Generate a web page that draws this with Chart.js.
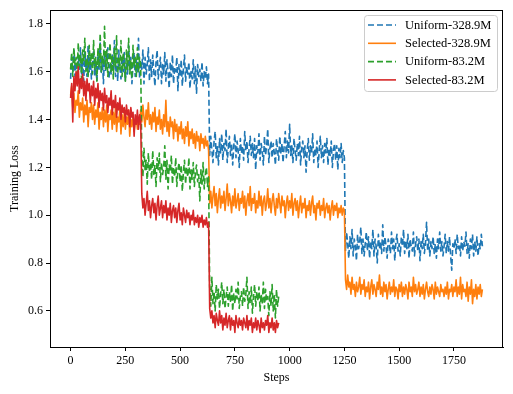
<!DOCTYPE html>
<html>
<head>
<meta charset="utf-8">
<script src="https://cdn.jsdelivr.net/npm/chart.js@4/dist/chart.umd.min.js"></script>
<style>
  html, body { margin: 0; padding: 0; background: #fff; }
  #wrap { width: 513px; height: 394px; }
</style>
</head>
<body>
<div id="wrap"><canvas id="chartCanvas"></canvas></div>
<script>
// one value every 5 steps
const STEP = 5;

const seriesNames = ['Uniform-328.9M', 'Selected-328.9M', 'Uniform-83.2M', 'Selected-83.2M'];

const uniform329 = [
  1.57,1.66,1.60,1.69,1.58,1.64,1.55,1.67,1.61,1.70,
  1.59,1.65,1.56,1.68,1.62,1.58,1.71,1.60,1.66,1.57,
  1.64,1.69,1.58,1.63,1.56,1.67,1.61,1.72,1.59,1.65,
  1.55,1.68,1.60,1.64,1.70,1.57,1.63,1.59,1.67,1.61,
  1.73,1.58,1.65,1.56,1.69,1.62,1.57,1.66,1.60,1.68,
  1.56,1.64,1.59,1.71,1.61,1.66,1.55,1.63,1.68,1.58,
  1.65,1.60,1.74,1.57,1.64,1.61,1.69,1.55,1.66,1.59,
  1.63,1.70,1.56,1.65,1.58,1.67,1.60,1.54,1.64,1.69,
  1.57,1.62,1.66,1.55,1.63,1.59,1.68,1.56,1.65,1.60,
  1.53,1.64,1.58,1.67,1.55,1.62,1.60,1.66,1.52,1.63,
  1.58,1.65,1.54,1.61,1.67,1.56,1.62,1.59,1.64,1.53,
  1.60,1.57,1.65,1.55,1.62,1.51,1.63,1.58,1.61,1.56,
  1.64,1.54,1.60,1.57,1.62,1.55,1.59,
  1.25,1.33,1.27,1.22,1.31,1.35,1.24,1.29,1.21,1.32,
  1.26,1.34,1.23,1.30,1.27,1.36,1.22,1.28,1.33,1.25,
  1.30,1.21,1.29,1.34,1.24,1.31,1.27,1.20,1.32,1.26,
  1.29,1.23,1.35,1.27,1.31,1.22,1.28,1.33,1.25,1.30,
  1.24,1.32,1.19,1.29,1.26,1.34,1.23,1.30,1.27,1.21,
  1.33,1.25,1.29,1.36,1.22,1.28,1.31,1.24,1.30,1.26,
  1.21,1.32,1.27,1.23,1.33,1.26,1.30,1.22,1.29,1.35,
  1.24,1.31,1.26,1.38,1.25,1.29,1.22,1.32,1.27,1.23,
  1.30,1.25,1.33,1.21,1.28,1.31,1.24,1.29,1.18,1.27,
  1.32,1.23,1.29,1.26,1.34,1.22,1.28,1.25,1.31,1.20,
  1.27,1.33,1.24,1.29,1.22,1.30,1.26,1.32,1.21,1.28,
  1.25,1.31,1.20,1.27,1.30,1.23,1.29,1.19,1.28,1.24,
  1.30,1.22,1.27,1.24,
  0.85,0.93,0.88,0.82,0.91,0.86,0.94,0.83,0.90,0.87,
  0.81,0.92,0.86,0.89,0.95,0.84,0.90,0.83,0.88,0.93,
  0.85,0.91,0.82,0.89,0.86,0.94,0.83,0.90,0.87,0.80,
  0.92,0.86,0.89,0.84,0.96,0.85,0.91,0.87,0.82,0.90,
  0.88,0.84,0.93,0.86,0.90,0.81,0.89,0.92,0.85,0.88,
  0.83,0.91,0.87,0.94,0.84,0.89,0.86,0.92,0.82,0.90,
  0.87,0.85,0.93,0.83,0.88,0.91,0.85,0.90,0.81,0.89,
  0.86,0.92,0.84,0.88,0.97,0.85,0.90,0.83,0.89,0.86,
  0.91,0.84,0.88,0.82,0.90,0.86,0.93,0.85,0.89,0.83,
  0.87,0.92,0.84,0.89,0.85,0.91,0.83,0.77,0.88,0.86,
  0.90,0.84,0.92,0.86,0.88,0.83,0.91,0.85,0.89,0.87,
  0.93,0.84,0.88,0.82,0.90,0.86,0.92,0.83,0.89,0.85,
  0.91,0.83,0.88,0.86,0.92,0.87
];

const selected329 = [
  1.50,1.54,1.45,1.51,1.43,1.48,1.46,1.52,1.41,1.47,
  1.44,1.49,1.39,1.46,1.42,1.48,1.37,1.45,1.43,1.47,
  1.40,1.46,1.38,1.44,1.41,1.47,1.36,1.43,1.40,1.45,
  1.37,1.44,1.39,1.46,1.35,1.42,1.40,1.44,1.36,1.43,
  1.38,1.45,1.35,1.41,1.39,1.44,1.34,1.42,1.37,1.43,
  1.36,1.41,1.38,1.44,1.33,1.40,1.37,1.42,1.35,1.39,
  1.41,1.36,1.40,1.38,
  1.44,1.39,1.46,1.41,1.37,1.44,1.40,1.47,1.38,1.42,
  1.36,1.43,1.39,1.45,1.35,1.41,1.38,1.44,1.36,1.40,
  1.34,1.42,1.37,1.48,1.35,1.39,1.33,1.41,1.37,1.39,
  1.32,1.40,1.35,1.38,1.31,1.37,1.34,1.39,1.32,1.36,
  1.30,1.37,1.33,1.39,1.29,1.35,1.32,1.36,1.30,1.34,
  1.28,1.35,1.31,1.33,1.27,1.34,1.30,1.32,1.28,1.33,
  1.29,1.31,1.27,
  1.05,1.10,1.03,1.08,1.12,1.04,1.09,1.01,1.07,1.11,
  1.03,1.08,1.05,1.10,1.02,1.07,1.13,1.04,1.09,1.06,
  1.01,1.08,1.04,1.11,1.03,1.06,1.09,1.02,1.07,1.05,
  1.10,1.03,1.08,1.00,1.06,1.09,1.04,1.12,1.02,1.07,
  1.05,1.09,1.01,1.06,1.03,1.10,1.04,1.08,1.00,1.06,
  1.08,1.02,1.05,1.11,1.03,1.07,1.01,1.06,1.09,1.04,
  1.00,1.07,1.03,1.09,1.05,1.01,1.08,1.04,1.06,0.99,
  1.05,1.08,1.02,1.06,1.03,1.09,1.00,1.05,1.07,1.02,
  1.06,0.99,1.04,1.08,1.01,1.05,1.03,1.07,0.99,1.04,
  1.02,1.06,1.00,1.05,1.08,1.01,1.04,0.98,1.05,1.03,
  1.06,1.00,1.04,1.02,1.07,0.99,1.03,1.05,1.01,1.04,
  0.98,1.03,1.06,1.00,1.04,1.02,1.05,0.99,1.03,1.01,
  1.04,1.00,1.03,1.02,
  0.73,0.69,0.75,0.70,0.72,0.67,0.74,0.69,0.71,0.66,
  0.72,0.68,0.70,0.74,0.67,0.71,0.69,0.73,0.66,0.70,
  0.68,0.72,0.65,0.70,0.73,0.67,0.71,0.69,0.66,0.72,
  0.69,0.75,0.67,0.70,0.66,0.72,0.68,0.71,0.65,0.69,
  0.72,0.67,0.70,0.68,0.73,0.66,0.70,0.69,0.65,0.71,
  0.68,0.72,0.66,0.70,0.67,0.71,0.69,0.65,0.72,0.68,
  0.70,0.66,0.74,0.68,0.71,0.67,0.69,0.72,0.66,0.70,
  0.67,0.71,0.65,0.69,0.72,0.68,0.66,0.70,0.67,0.71,
  0.69,0.65,0.72,0.67,0.70,0.68,0.66,0.71,0.68,0.69,
  0.66,0.70,0.67,0.72,0.65,0.69,0.68,0.71,0.66,0.70,
  0.68,0.73,0.66,0.70,0.67,0.74,0.65,0.71,0.68,0.69,
  0.66,0.72,0.64,0.70,0.67,0.73,0.63,0.69,0.66,0.71,
  0.65,0.70,0.67,0.71,0.66,0.69
];

const uniform83 = [
  1.61,1.68,1.58,1.70,1.63,1.66,1.59,1.72,1.62,1.67,
  1.57,1.69,1.64,1.74,1.60,1.66,1.58,1.71,1.63,1.68,
  1.59,1.73,1.61,1.66,1.56,1.70,1.62,1.76,1.60,1.67,
  1.63,1.79,1.61,1.69,1.58,1.65,1.72,1.60,1.67,1.57,
  1.70,1.62,1.75,1.59,1.66,1.61,1.73,1.58,1.68,1.63,
  1.56,1.69,1.61,1.74,1.59,1.65,1.57,1.71,1.62,1.66,
  1.58,1.70,1.60,1.66,1.63,
  1.25,1.16,1.28,1.19,1.23,1.13,1.26,1.18,1.22,1.15,
  1.27,1.17,1.21,1.12,1.24,1.19,1.26,1.14,1.22,1.17,
  1.20,1.29,1.15,1.23,1.11,1.21,1.18,1.25,1.13,1.20,
  1.16,1.24,1.12,1.19,1.22,1.14,1.21,1.10,1.18,1.23,
  1.13,1.20,1.16,1.24,1.11,1.19,1.15,1.22,1.12,1.18,
  1.21,1.14,1.17,1.06,1.19,1.13,1.22,1.11,1.17,1.20,
  1.12,1.16,
  0.70,0.62,0.74,0.63,0.68,0.60,0.71,0.65,0.69,0.61,
  0.67,0.72,0.63,0.69,0.61,0.66,0.70,0.62,0.68,0.64,
  0.71,0.60,0.67,0.63,0.69,0.65,0.72,0.61,0.66,0.68,
  0.62,0.70,0.64,0.67,0.74,0.61,0.68,0.63,0.70,0.59,
  0.66,0.71,0.62,0.68,0.64,0.70,0.60,0.67,0.63,0.72,
  0.61,0.69,0.64,0.66,0.58,0.68,0.62,0.71,0.60,0.67,
  0.57,0.69,0.62,0.66
];

const selected83 = [
  1.49,1.55,1.39,1.58,1.52,1.60,1.54,1.62,1.51,1.57,
  1.53,1.59,1.50,1.56,1.48,1.57,1.52,1.55,1.47,1.54,
  1.50,1.56,1.46,1.53,1.49,1.55,1.45,1.52,1.48,1.51,
  1.44,1.53,1.47,1.50,1.43,1.49,1.46,1.52,1.42,1.48,
  1.45,1.50,1.41,1.47,1.44,1.49,1.40,1.46,1.43,1.45,
  1.39,1.46,1.42,1.44,1.37,1.45,1.41,1.43,1.33,1.42,
  1.38,1.44,1.36,1.42,1.40,
  1.09,1.03,1.07,1.00,1.05,1.10,1.02,1.06,0.99,1.04,
  1.07,1.01,1.05,0.98,1.04,1.08,1.00,1.03,1.06,0.99,
  1.04,1.01,1.06,0.98,1.03,1.00,1.05,0.97,1.02,1.04,
  0.99,1.03,0.97,1.02,1.05,0.98,1.01,0.96,1.03,1.00,
  0.97,1.02,0.99,1.01,0.96,1.00,0.98,1.02,0.96,0.99,
  0.97,1.00,0.95,0.99,0.97,1.00,0.95,0.98,0.96,0.99,
  0.95,0.97,
  0.61,0.57,0.60,0.55,0.58,0.53,0.59,0.56,0.54,0.60,
  0.55,0.58,0.52,0.57,0.54,0.59,0.53,0.56,0.58,0.52,
  0.57,0.54,0.56,0.51,0.58,0.55,0.53,0.57,0.54,0.56,
  0.52,0.57,0.55,0.53,0.58,0.52,0.56,0.54,0.57,0.51,
  0.55,0.53,0.57,0.52,0.56,0.54,0.51,0.57,0.53,0.55,
  0.52,0.56,0.54,0.58,0.51,0.55,0.53,0.57,0.52,0.55,
  0.51,0.56,0.53,0.55
];

const xTicks = [0, 250, 500, 750, 1000, 1250, 1500, 1750];
const yTicks = [0.6, 0.8, 1.0, 1.2, 1.4, 1.6, 1.8];

const colors = ['#1f77b4', '#ff7f0e', '#2ca02c', '#d62728'];
const dashes = [[6, 3], [], [6, 3], []];
const SERIF = '"Liberation Serif", "DejaVu Serif", serif';

function toPoints(values) {
    return values.map((v, i) => ({ x: i * STEP, y: v }));
}

const allSeries = [uniform329, selected329, uniform83, selected83];

const datasets = allSeries.map((vals, i) => ({
    label: seriesNames[i],
    data: toPoints(vals),
    borderColor: colors[i],
    backgroundColor: colors[i],
    borderWidth: 1.6,
    borderDash: dashes[i],
    borderJoinStyle: 'round',
    pointRadius: 0,
    tension: 0,
    fill: false,
    order: 4 - i
}));

// top/right spines plus the matplotlib-style legend box
const framePlugin = {
    id: 'frame',
    afterDraw(chart) {
        const { ctx, chartArea: a } = chart;
        ctx.save();
        ctx.strokeStyle = '#000';
        ctx.lineWidth = 1;
        ctx.setLineDash([]);
        ctx.strokeRect(Math.round(a.left) + 0.5, Math.round(a.top) + 0.5,
            Math.round(a.right - a.left) - 1, Math.round(a.bottom - a.top));

        const bx = 364.5, by = 15.5, bw = 133, bh = 76, r = 3;
        ctx.beginPath();
        ctx.moveTo(bx + r, by);
        ctx.arcTo(bx + bw, by, bx + bw, by + bh, r);
        ctx.arcTo(bx + bw, by + bh, bx, by + bh, r);
        ctx.arcTo(bx, by + bh, bx, by, r);
        ctx.arcTo(bx, by, bx + bw, by, r);
        ctx.closePath();
        ctx.fillStyle = 'rgba(255,255,255,0.8)';
        ctx.fill();
        ctx.strokeStyle = '#cccccc';
        ctx.stroke();

        ctx.font = '12.5px ' + SERIF;
        ctx.textBaseline = 'middle';
        ctx.textAlign = 'left';
        seriesNames.forEach((name, i) => {
            const y = 25 + i * 18.3;
            ctx.beginPath();
            ctx.setLineDash(dashes[i]);
            ctx.strokeStyle = colors[i];
            ctx.lineWidth = 1.6;
            ctx.moveTo(368, y);
            ctx.lineTo(396, y);
            ctx.stroke();
            ctx.setLineDash([]);
            ctx.fillStyle = '#000';
            ctx.fillText(name, 405, y + 0.5);
        });
        ctx.restore();
    }
};

new Chart(document.getElementById('chartCanvas').getContext('2d'), {
    type: 'line',
    data: { datasets: datasets },
    options: {
        responsive: true,
        maintainAspectRatio: false,
        devicePixelRatio: 1,
        animation: false,
        layout: { padding: { top: 9, right: 10, left: 0, bottom: 0 } },
        plugins: { legend: { display: false }, tooltip: { enabled: false } },
        scales: {
            x: {
                type: 'linear',
                min: -94,
                max: 1974,
                afterBuildTicks: s => { s.ticks = xTicks.map(v => ({ value: v })); },
                afterFit: s => { s.height = 47; },
                grid: { drawOnChartArea: false, color: '#000', tickLength: 4, tickWidth: 1 },
                border: { display: true, color: '#000', width: 1 },
                ticks: { color: '#000', font: { family: SERIF, size: 12 }, padding: 3, maxRotation: 0, callback: v => String(v) },
                title: { display: true, text: 'Steps', color: '#000', font: { family: SERIF, size: 12 }, padding: { top: 0, bottom: 9 } }
            },
            y: {
                min: 0.449,
                max: 1.857,
                afterBuildTicks: s => { s.ticks = yTicks.map(v => ({ value: v })); },
                afterFit: s => { s.width = 50; },
                grid: { drawOnChartArea: false, color: '#000', tickLength: 4, tickWidth: 1 },
                border: { display: true, color: '#000', width: 1 },
                ticks: { color: '#000', font: { family: SERIF, size: 12 }, padding: 3, callback: v => v.toFixed(1) },
                title: { display: true, text: 'Training Loss', color: '#000', font: { family: SERIF, size: 12 }, padding: { top: 8, bottom: 0 } }
            }
        }
    },
    plugins: [framePlugin]
});
</script>
</body>
</html>
